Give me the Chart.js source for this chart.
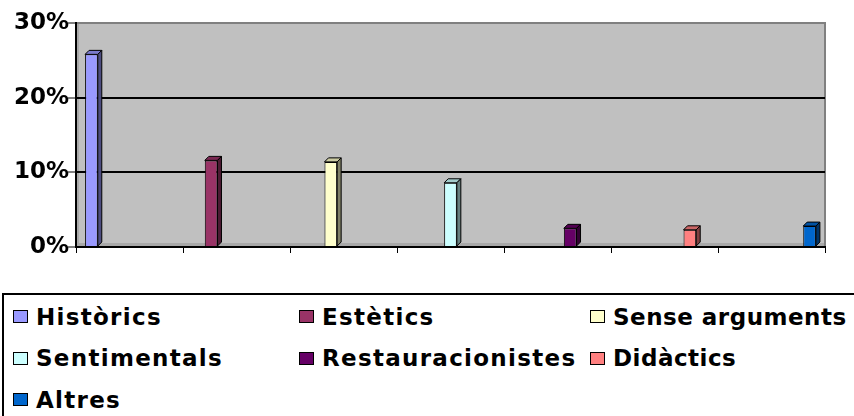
<!DOCTYPE html>
<html>
<head>
<meta charset="utf-8">
<script src="https://cdn.jsdelivr.net/npm/chart.js@4"></script>
<style>
html,body{margin:0;padding:0;background:#fff;overflow:hidden}
#wrap{position:relative;width:854px;height:416px}
#grafico{position:absolute;left:0;top:0}
#legenda{position:absolute;left:2px;top:293px;width:900px;height:200px;border-top:2px solid #000;border-left:2px solid #000;box-sizing:border-box;padding:1px 0 0 9px;display:grid;grid-template-columns:286px 291px 300px;grid-auto-rows:41.5px;font:bold 23px "DejaVu Sans",sans-serif;letter-spacing:1.3px;color:#000}
.voce{display:flex;align-items:center;white-space:nowrap}
.voce:nth-child(3n){letter-spacing:0.5px}
.quad{width:13px;height:11px;border:1.5px solid #000;margin-right:8px;flex:none}
</style>
</head>
<body>
<div id="wrap">
  <canvas id="grafico" width="854" height="262"></canvas>
  <div id="legenda"></div>
</div>
<script>
const categorie=["Històrics","Estètics","Sense arguments","Sentimentals","Restauracionistes","Didàctics","Altres"];
const valori=[25.8,11.6,11.4,8.6,2.5,2.3,2.8];
const colori=["#9999FF","#993366","#FFFFCC","#CCFFFF","#660066","#FF8080","#0066CC"];
const tacche=[0,10,20,30];

function scurisci(hex,f){
  const n=parseInt(hex.slice(1),16);
  const r=Math.round(((n>>16)&255)*f), g=Math.round(((n>>8)&255)*f), b=Math.round((n&255)*f);
  return `rgb(${r},${g},${b})`;
}

// ogni serie ha il suo valore solo nella propria categoria
const datasets=categorie.map((nome,i)=>({
  label:nome,
  data:categorie.map((_,j)=> j===i ? valori[i] : null),
  backgroundColor:colori[i],
  borderColor:'#000',
  borderWidth:1,
  barPercentage:1,
  categoryPercentage:0.83
}));

const sfondo={
  id:'sfondo',
  beforeDraw(c){
    const {ctx,chartArea:a}=c;
    ctx.save();
    ctx.fillStyle='#C0C0C0';
    ctx.fillRect(a.left,a.top,a.right-a.left,a.bottom-a.top);
    ctx.fillStyle='#A8A8A8';
    ctx.fillRect(a.left,a.bottom-4,a.right-a.left,4);
    ctx.fillRect(a.left,a.top,3,a.bottom-a.top);
    ctx.strokeStyle='#808080';
    ctx.lineWidth=2;
    ctx.beginPath();
    ctx.moveTo(a.left,a.top);ctx.lineTo(a.right,a.top);ctx.lineTo(a.right,a.bottom);
    ctx.stroke();
    ctx.restore();
  }
};

const barre3d={
  id:'barre3d',
  afterDatasetsDraw(c){
    const ctx=c.ctx, d=4;
    c.data.datasets.forEach((ds,i)=>{
      const meta=c.getDatasetMeta(i);
      meta.data.forEach((el,j)=>{
        if(ds.data[j]==null) return;
        const p=el.getProps(['x','y','base','width'],true);
        const l=p.x-p.width/2, r=p.x+p.width/2;
        ctx.save();
        ctx.strokeStyle='#000';ctx.lineWidth=1;
        ctx.fillStyle=scurisci(colori[i],0.8);
        ctx.beginPath();
        ctx.moveTo(l,p.y);ctx.lineTo(l+d,p.y-d);ctx.lineTo(r+d,p.y-d);ctx.lineTo(r,p.y);ctx.closePath();
        ctx.fill();ctx.stroke();
        ctx.fillStyle=scurisci(colori[i],0.5);
        ctx.beginPath();
        ctx.moveTo(r,p.y);ctx.lineTo(r+d,p.y-d);ctx.lineTo(r+d,p.base-d);ctx.lineTo(r,p.base);ctx.closePath();
        ctx.fill();ctx.stroke();
        ctx.restore();
      });
    });
  }
};

const grafico=new Chart(document.getElementById('grafico').getContext('2d'),{
  type:'bar',
  data:{labels:categorie,datasets:datasets},
  options:{
    responsive:false,
    animation:false,
    layout:{padding:{top:23,right:29,left:0,bottom:0}},
    plugins:{legend:{display:false},tooltip:{enabled:false}},
    scales:{
      x:{
        ticks:{callback:()=>''},
        grid:{drawOnChartArea:false,tickLength:6,color:'#000',tickColor:'#000'},
        border:{color:'#000',width:2},
        afterFit(s){s.height=262-247;}
      },
      y:{
        min:0,max:30,
        afterBuildTicks(s){s.ticks=tacche.map(v=>({value:v}));},
        ticks:{callback:v=>v+'%',color:'#000',padding:-1,font:{family:'"DejaVu Sans", sans-serif',size:23,weight:'bold'}},
        grid:{color:ctx=>ctx.tick&&ctx.tick.value===30?'#808080':'#000',lineWidth:2,tickColor:'#000',tickWidth:1,tickLength:8},
        border:{color:'#000',width:2},
        afterFit(s){s.width=76;}
      }
    }
  },
  plugins:[sfondo,barre3d]
});

const legenda=document.getElementById('legenda');
grafico.data.datasets.forEach(ds=>{
  legenda.insertAdjacentHTML('beforeend',`<div class="voce"><span class="quad" style="background:${ds.backgroundColor}"></span>${ds.label}</div>`);
});
</script>
</body>
</html>
